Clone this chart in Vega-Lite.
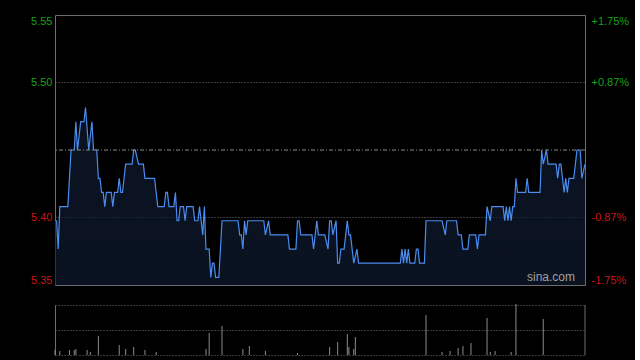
{
  "$schema": "https://vega.github.io/schema/vega-lite/v6.json",
  "background": "#000000",
  "padding": {"top": 14, "left": 5, "right": 5, "bottom": 5},
  "spacing": 17,
  "config": {
    "font": "Liberation Sans",
    "axis": {"labelFont": "Liberation Sans", "labelFontSize": 11, "title": null}
  },
  "datasets": {
    "price": [
      {"m":0,"p":5.40},{"m":1,"p":5.40},{"m":2,"p":5.38},{"m":3,"p":5.41},{"m":8,"p":5.41},{"m":10,"p":5.45},{"m":12,"p":5.45},{"m":13,"p":5.47},{"m":14,"p":5.45},{"m":16,"p":5.47},{"m":18,"p":5.47},{"m":19,"p":5.48},{"m":21,"p":5.45},{"m":23,"p":5.47},{"m":24,"p":5.45},{"m":26,"p":5.45},{"m":27,"p":5.43},{"m":28,"p":5.43},{"m":29,"p":5.42},{"m":30,"p":5.42},{"m":31,"p":5.41},{"m":32,"p":5.42},{"m":35,"p":5.42},{"m":36,"p":5.41},{"m":37,"p":5.42},{"m":39,"p":5.42},{"m":40,"p":5.43},{"m":41,"p":5.42},{"m":42,"p":5.42},{"m":44,"p":5.44},{"m":48,"p":5.44},{"m":49,"p":5.45},{"m":50,"p":5.45},{"m":52,"p":5.44},{"m":55,"p":5.44},{"m":56,"p":5.43},{"m":62,"p":5.43},{"m":64,"p":5.41},{"m":68,"p":5.41},{"m":69,"p":5.42},{"m":70,"p":5.42},{"m":71,"p":5.41},{"m":74,"p":5.41},{"m":75,"p":5.42},{"m":76,"p":5.40},{"m":77,"p":5.40},{"m":78,"p":5.41},{"m":80,"p":5.41},{"m":81,"p":5.40},{"m":82,"p":5.41},{"m":86,"p":5.41},{"m":87,"p":5.40},{"m":89,"p":5.40},{"m":90,"p":5.41},{"m":92,"p":5.39},{"m":93,"p":5.41},{"m":94,"p":5.38},{"m":96,"p":5.38},{"m":97,"p":5.36},{"m":98,"p":5.37},{"m":99,"p":5.37},{"m":100,"p":5.36},{"m":102,"p":5.36},{"m":104,"p":5.40},{"m":114,"p":5.40},{"m":115,"p":5.39},{"m":116,"p":5.39},{"m":117,"p":5.38},{"m":118,"p":5.40},{"m":119,"p":5.39},{"m":120,"p":5.40},{"m":130,"p":5.40},{"m":131,"p":5.39},{"m":133,"p":5.40},{"m":134,"p":5.39},{"m":145,"p":5.39},{"m":146,"p":5.38},{"m":150,"p":5.38},{"m":151,"p":5.40},{"m":152,"p":5.40},{"m":153,"p":5.39},{"m":160,"p":5.39},{"m":161,"p":5.38},{"m":163,"p":5.40},{"m":164,"p":5.39},{"m":168,"p":5.39},{"m":170,"p":5.38},{"m":171,"p":5.40},{"m":172,"p":5.40},{"m":173,"p":5.39},{"m":175,"p":5.40},{"m":176,"p":5.37},{"m":177,"p":5.37},{"m":178,"p":5.38},{"m":180,"p":5.38},{"m":182,"p":5.40},{"m":183,"p":5.39},{"m":184,"p":5.39},{"m":186,"p":5.37},{"m":188,"p":5.38},{"m":189,"p":5.37},{"m":215,"p":5.37},{"m":216,"p":5.38},{"m":217,"p":5.37},{"m":218,"p":5.38},{"m":219,"p":5.37},{"m":220,"p":5.38},{"m":221,"p":5.37},{"m":224,"p":5.37},{"m":225,"p":5.38},{"m":226,"p":5.38},{"m":227,"p":5.37},{"m":230,"p":5.37},{"m":231,"p":5.40},{"m":241,"p":5.40},{"m":243,"p":5.39},{"m":244,"p":5.40},{"m":250,"p":5.40},{"m":251,"p":5.39},{"m":253,"p":5.39},{"m":254,"p":5.38},{"m":257,"p":5.38},{"m":258,"p":5.39},{"m":262,"p":5.39},{"m":263,"p":5.38},{"m":264,"p":5.39},{"m":268,"p":5.39},{"m":269,"p":5.41},{"m":271,"p":5.40},{"m":272,"p":5.41},{"m":279,"p":5.41},{"m":280,"p":5.40},{"m":281,"p":5.41},{"m":282,"p":5.40},{"m":283,"p":5.41},{"m":284,"p":5.40},{"m":285,"p":5.41},{"m":286,"p":5.41},{"m":287,"p":5.43},{"m":288,"p":5.42},{"m":293,"p":5.42},{"m":294,"p":5.43},{"m":295,"p":5.42},{"m":302,"p":5.42},{"m":303,"p":5.45},{"m":304,"p":5.44},{"m":306,"p":5.45},{"m":307,"p":5.44},{"m":312,"p":5.44},{"m":313,"p":5.43},{"m":314,"p":5.44},{"m":315,"p":5.44},{"m":317,"p":5.42},{"m":318,"p":5.43},{"m":319,"p":5.42},{"m":320,"p":5.43},{"m":323,"p":5.43},{"m":325,"p":5.45},{"m":327,"p":5.45},{"m":328,"p":5.43},{"m":330,"p":5.44}
    ],
    "vol": [
      {"m":0,"v":5},{"m":3,"v":4},{"m":9,"v":5},{"m":12,"v":5},{"m":13,"v":6},{"m":20,"v":5},{"m":22,"v":3},{"m":27,"v":19},{"m":40,"v":10},{"m":44,"v":6},{"m":49,"v":8},{"m":56,"v":5},{"m":63,"v":3},{"m":94,"v":6},{"m":96,"v":22},{"m":104,"v":29},{"m":117,"v":6},{"m":121,"v":9},{"m":131,"v":4},{"m":151,"v":2},{"m":171,"v":8},{"m":176,"v":13},{"m":182,"v":21},{"m":183,"v":8},{"m":186,"v":6},{"m":187,"v":18},{"m":231,"v":40},{"m":241,"v":3},{"m":246,"v":4},{"m":251,"v":7},{"m":254,"v":9},{"m":259,"v":12},{"m":269,"v":37},{"m":271,"v":3},{"m":274,"v":4},{"m":284,"v":3},{"m":287,"v":51},{"m":304,"v":36}
    ],
    "refline": [{"prevClose": 5.45, "label": "sina.com"}]
  },
  "vconcat": [
    {
      "width": 530,
      "height": 270,
      "view": {"stroke": "#6e6e6e", "strokeWidth": 1},
      "layer": [
        {
          "data": {"name": "price"},
          "mark": {
            "type": "area",
            "clip": true,
            "interpolate": "linear",
            "color": {"gradient": "linear", "x1": 0, "y1": 0, "x2": 0, "y2": 1,
              "stops": [{"offset": 0, "color": "#0f1b30"}, {"offset": 1, "color": "#05080e"}]},
            "line": {"color": "#4a8cf0", "strokeWidth": 1.2}
          },
          "encoding": {
            "x": {"field": "m", "type": "quantitative",
              "scale": {"domain": [0, 330], "nice": false, "zero": false},
              "axis": {"values": [30,60,90,120,150,180,210,240,270,300], "labels": false, "ticks": false, "domain": false,
                "grid": true, "gridColor": "#707070", "gridDash": [1, 2], "gridWidth": 1, "minExtent": 0, "maxExtent": 0}},
            "y": {"field": "p", "type": "quantitative",
              "scale": {"domain": [5.3546, 5.5454], "nice": false, "zero": false},
              "axis": {"orient": "left", "values": [5.3546, 5.4023, 5.45, 5.4977, 5.5454], "format": ".2f",
                "labelExpr": "datum.value == 5.45 ? '' : datum.label",
                "labelColor": {"condition": {"test": "datum.value > 5.45", "value": "#18a018"}, "value": "#cc1414"},
                "labelFlush": true, "labelPadding": 3, "ticks": false, "domain": false,
                "grid": true, "gridColor": "#707070", "gridDash": [1, 2],
                "gridOpacity": {"condition": {"test": "datum.value == 5.4023 || datum.value == 5.4977", "value": 1}, "value": 0},
                "minExtent": 49, "maxExtent": 49}}
          }
        },
        {
          "data": {"name": "refline"},
          "mark": {"type": "rule", "color": "#8a8a8a", "strokeDash": [4, 2, 1, 2], "strokeWidth": 1},
          "encoding": {
            "y": {"field": "prevClose", "type": "quantitative",
              "scale": {"domain": [5.3546, 5.5454], "nice": false, "zero": false},
              "axis": {"orient": "right", "values": [5.3546, 5.4023, 5.4977, 5.5454],
                "labelExpr": "datum.value > 5.5 ? '+1.75%' : datum.value > 5.46 ? '+0.87%' : datum.value > 5.38 ? '-0.87%' : '-1.75%'",
                "labelColor": {"condition": {"test": "datum.value > 5.45", "value": "#18a018"}, "value": "#cc1414"},
                "labelFlush": true, "labelPadding": 6, "ticks": false, "domain": false, "grid": false}}
          }
        },
        {
          "data": {"name": "refline"},
          "mark": {"type": "text", "color": "#a0a0a0", "fontSize": 12, "align": "right", "baseline": "bottom", "dx": -10, "dy": -1},
          "encoding": {
            "text": {"field": "label"},
            "x": {"datum": 330, "type": "quantitative", "axis": null},
            "y": {"datum": 5.3546, "type": "quantitative", "axis": null}
          }
        }
      ],
      "resolve": {"axis": {"y": "independent"}}
    },
    {
      "width": 530,
      "height": 50,
      "view": {"stroke": null},
      "data": {"name": "vol"},
      "layer": [
        {
          "mark": {"type": "rule", "color": "#8c8c8c", "strokeWidth": 1},
          "encoding": {
            "x": {"field": "m", "type": "quantitative", "scale": {"domain": [0, 330], "nice": false, "zero": false}, "axis": null},
            "y": {"field": "v", "type": "quantitative", "scale": {"domain": [0, 50], "nice": false},
              "axis": {"values": [0, 25, 50], "labels": false, "ticks": false, "domain": true, "domainColor": "#6e6e6e",
                "grid": true, "gridColor": "#707070", "gridDash": [1, 2], "minExtent": 49, "maxExtent": 49}},
            "y2": {"datum": 0}
          }
        },
        {
          "data": {"name": "refline"},
          "mark": {"type": "rule", "color": "#6e6e6e", "strokeWidth": 1},
          "encoding": {
            "x": {"datum": 330, "type": "quantitative"}
          }
        }
      ]
    }
  ]
}
